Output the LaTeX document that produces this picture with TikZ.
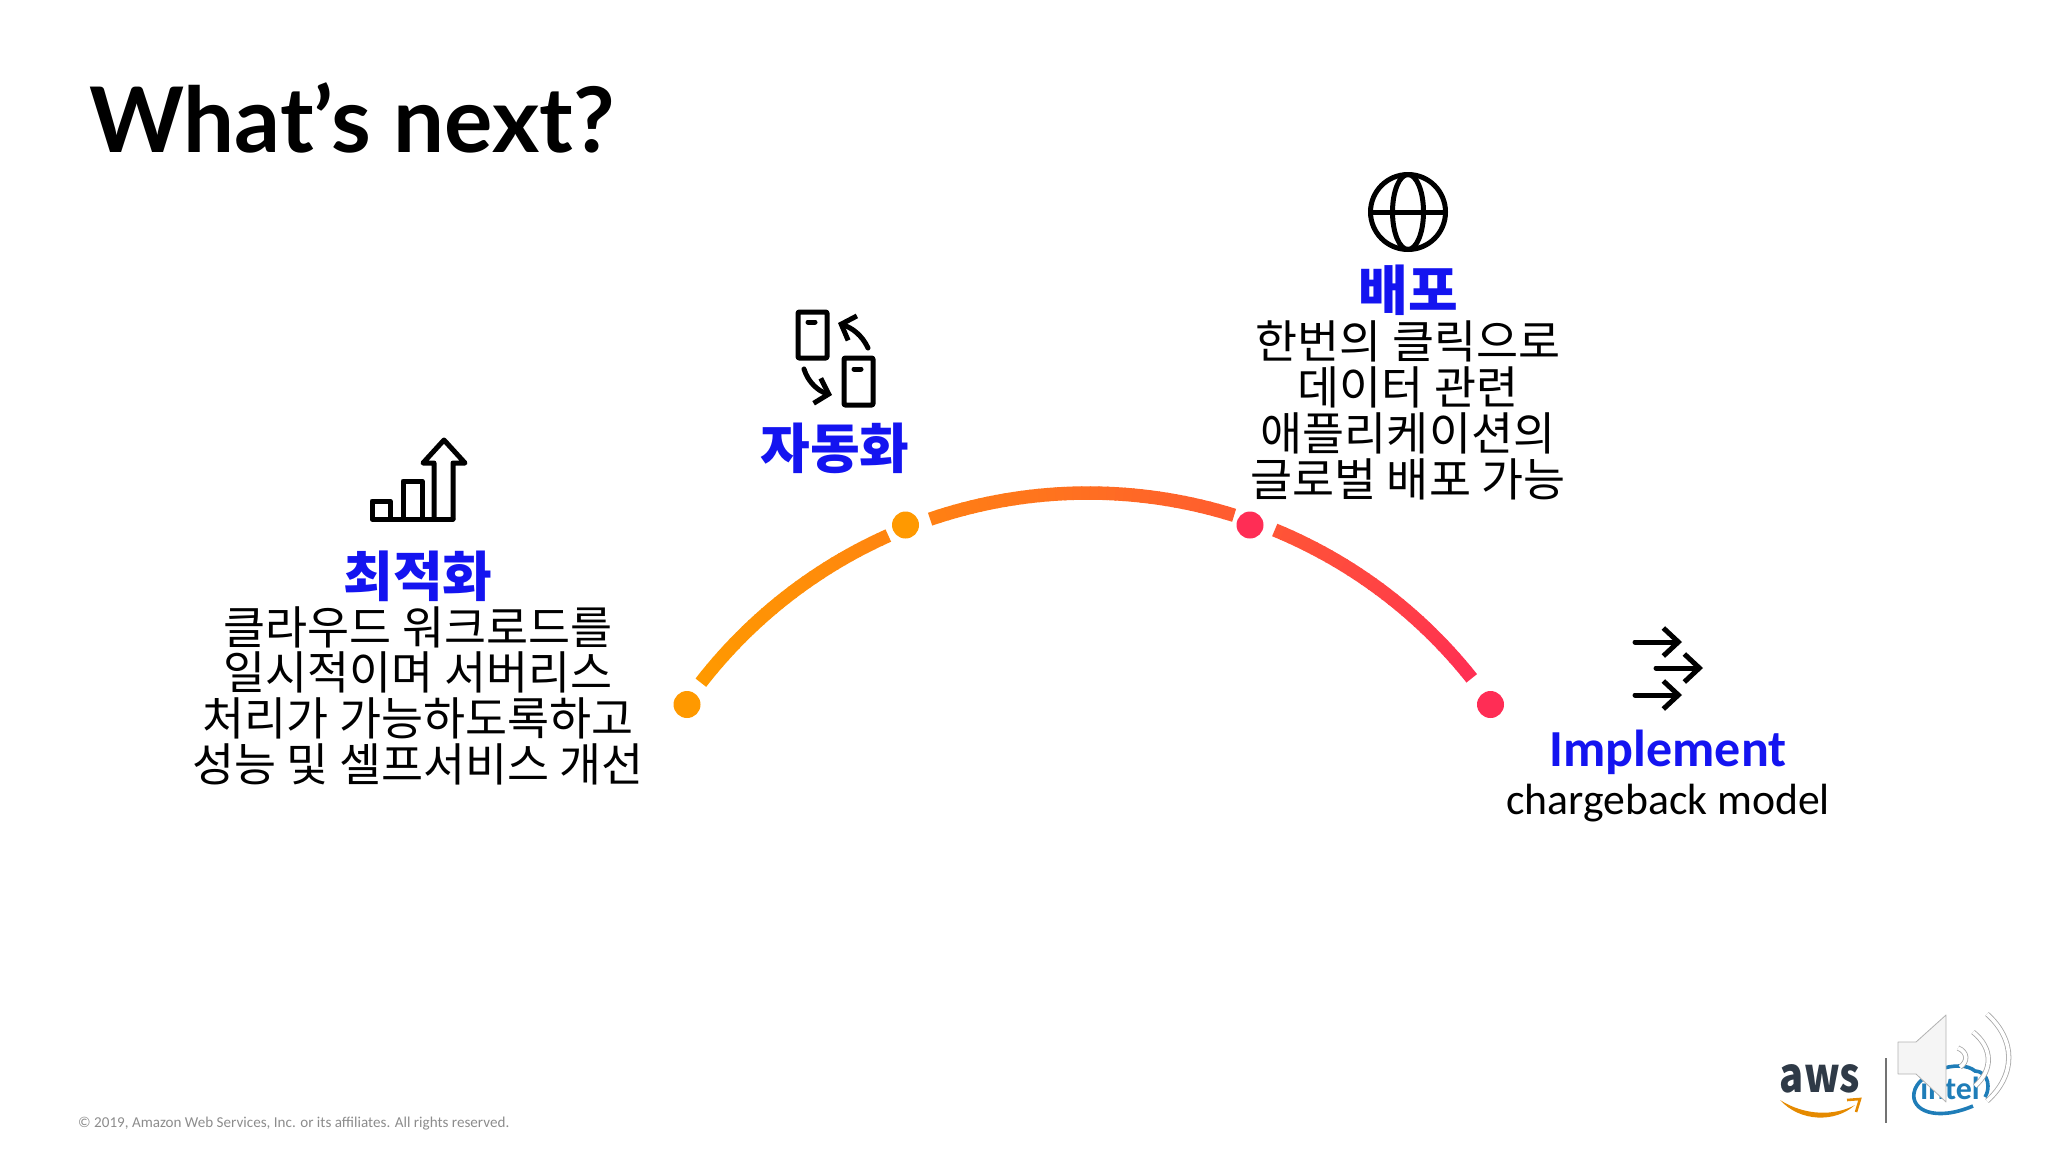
\documentclass[tikz,border=0pt]{standalone}
\usepackage{fontspec}
\setmainfont{Noto Sans CJK KR}
\newfontfamily\titlefont{Lato}
\newfontfamily\latinfont{Carlito}
\usetikzlibrary{arrows.meta}
\definecolor{headblue}{HTML}{1414F0}
\definecolor{arcorange}{HTML}{FF9900}
\definecolor{arcred}{HTML}{FF2D55}
\definecolor{awsdark}{HTML}{2F3A47}
\definecolor{inteblue}{HTML}{1F7DB8}
\newcommand\vsep{45.8}
\newcommand\optx{418}
\newcommand\depx{1408}
\newcommand\impx{1668}
\tikzset{
    headtext/.style={text=headblue,font=\fontsize{54}{54}\selectfont\bfseries,inner sep=0pt},
    bodytext/.style={font=\fontsize{45.7}{46}\selectfont,inner sep=0pt},
    icon/.style={draw=black,line width=5pt,line join=round,line cap=round},
    barbhead/.style={-{Straight Barb[length=15pt,width=28pt,line width=5pt]}},
    smallbarb/.style={-{Straight Barb[length=12pt,width=26pt,line width=5pt]}},
    arcpart/.style={line width=13.5pt},
    arcdot/.style={circle,minimum size=27pt,inner sep=0pt},
    wave/.style={draw=black!35,line width=.8pt,double=white,double distance=3.6pt},
}
\begin{document}
\begin{tikzpicture}[x=1pt,y=-1pt]
    \useasboundingbox (0,0) rectangle (2048,1152);

    \node[anchor=west,inner sep=0pt,font=\titlefont\fontsize{90.5}{90}\selectfont\bfseries] (title) at (89,118) {What’s next?};

    \foreach \a [evaluate=\a as \mixval using {(142.2-\a)/1.044*(0.6+0.4*(142.2-\a)/104.4)}] in {142.2,141.2,...,114.6,108.8,107.8,...,73.4,67.6,66.6,...,38.8} {
        \draw[arcpart,color=arcred!\mixval!arcorange] (1088,983)++(\a:490 and -490) arc[start angle=-\a,delta angle=1.15,radius=490];
    }
    \node[arcdot,fill=arcorange] (dotone) at (687,704.5) {};
    \node[arcdot,fill=arcorange] (dottwo) at (905.5,525) {};
    \node[arcdot,fill=arcred] (dotthree) at (1250,525) {};
    \node[arcdot,fill=arcred] (dotfour) at (1490.5,704.5) {};

    \draw[icon] (372,519) rectangle (390,501);
    \draw[icon] (390,519) -- (453,519);
    \draw[icon] (403,519) -- (403,481) -- (422,481) -- (422,519);
    \draw[icon] (434,519) -- (434,463) -- (423,463) -- (444,440) -- (465,463) -- (453,463) -- (453,519);
    \node[headtext] (opthead) at (\optx,576) {최적화};
    \node[bodytext] (optlineone) at (\optx,627) {클라우드 워크로드를};
    \node[bodytext] (optlinetwo) at (\optx,627+1*\vsep) {일시적이며 서버리스};
    \node[bodytext] (optlinethree) at (\optx,627+2*\vsep) {처리가 가능하도록하고};
    \node[bodytext] (optlinefour) at (\optx,627+3*\vsep) {성능 및 셀프서비스 개선};

    \draw[icon,rounded corners=1pt] (798,312) rectangle (827,358);
    \draw[icon] (808,322) -- (815,322);
    \draw[icon,rounded corners=1pt] (844,358) rectangle (873,405);
    \draw[icon] (854,369) -- (861,369);
    \draw[icon,smallbarb] (868,348) .. controls (862,335) and (852,328) .. (838,323);
    \draw[icon,smallbarb] (804,369) .. controls (808,382) and (818,391) .. (832,395);
    \node[headtext] (autohead) at (835,448) {자동화};

    \draw[icon] (1408,212) circle[radius=37.5];
    \draw[icon] (1408,212) ellipse[x radius=15.5,y radius=37.5];
    \draw[icon] (1371,212) -- (1445,212);
    \node[headtext] (dephead) at (\depx,290) {배포};
    \node[bodytext] (deplineone) at (\depx,341.5) {한번의 클릭으로};
    \node[bodytext] (deplinetwo) at (\depx,341.5+1*\vsep) {데이터 관련};
    \node[bodytext] (deplinethree) at (\depx,341.5+2*\vsep) {애플리케이션의};
    \node[bodytext] (deplinefour) at (\depx,341.5+3*\vsep) {글로벌 배포 가능};

    \draw[icon,barbhead] (1635,642) -- (1682,642);
    \draw[icon,barbhead] (1656,668) -- (1703,668);
    \draw[icon,barbhead] (1635,695) -- (1682,695);
    \node[inner sep=0pt,text=headblue,font=\latinfont\fontsize{52}{52}\selectfont\bfseries] (imphead) at (\impx,752.5) {Implement};
    \node[inner sep=0pt,font=\latinfont\fontsize{43.7}{44}\selectfont] (impline) at (\impx,803) {chargeback model};

    \node[anchor=west,inner sep=0pt,text=black!45,font=\latinfont\fontsize{15.1}{15}\selectfont] (copyright) at (78,1124) {© 2019, Amazon Web Services, Inc. or its affiliates. All rights reserved.};

    \node[inner sep=0pt,text=awsdark,font=\fontsize{40}{40}\selectfont\bfseries] (awstext) at (1820,1079) {\scalebox{1}[1.2]{aws}};
    \fill[arcorange!90!black] (1780,1100) .. controls (1805,1116) and (1835,1116) .. (1855,1105) .. controls (1835,1123) and (1800,1122) .. (1780,1100);
    \draw[arcorange!90!black,line width=2.6pt] (1847,1100) -- (1860,1099) -- (1856,1112);
    \draw[black!55,line width=2.2pt] (1886,1058) -- (1886,1123);

    \draw[inteblue,line width=3.6pt] (1973,1106) .. controls (1935,1122) and (1911,1110) .. (1914,1093) .. controls (1917,1072) and (1960,1058) .. (1975,1071) .. controls (1990,1072) and (1990,1090) .. (1985,1097);
    \node[inner sep=0pt,text=inteblue,font=\latinfont\fontsize{32}{32}\selectfont\bfseries] (inteltext) at (1950,1088) {intel};

    \draw[draw=black!30,fill=black!4,line width=.8pt,line join=round] (1898,1042) -- (1916,1042) -- (1946,1015) -- (1946,1102) -- (1916,1074) -- (1898,1074) -- cycle;
    \draw[wave] (1958,1048) .. controls (1968,1052) and (1968,1062) .. (1960,1067);
    \draw[wave] (1973,1032) .. controls (1993,1048) and (1993,1070) .. (1975,1086);
    \draw[wave] (1987,1014) .. controls (2016,1040) and (2016,1075) .. (1987,1101);
\end{tikzpicture}
\end{document}
